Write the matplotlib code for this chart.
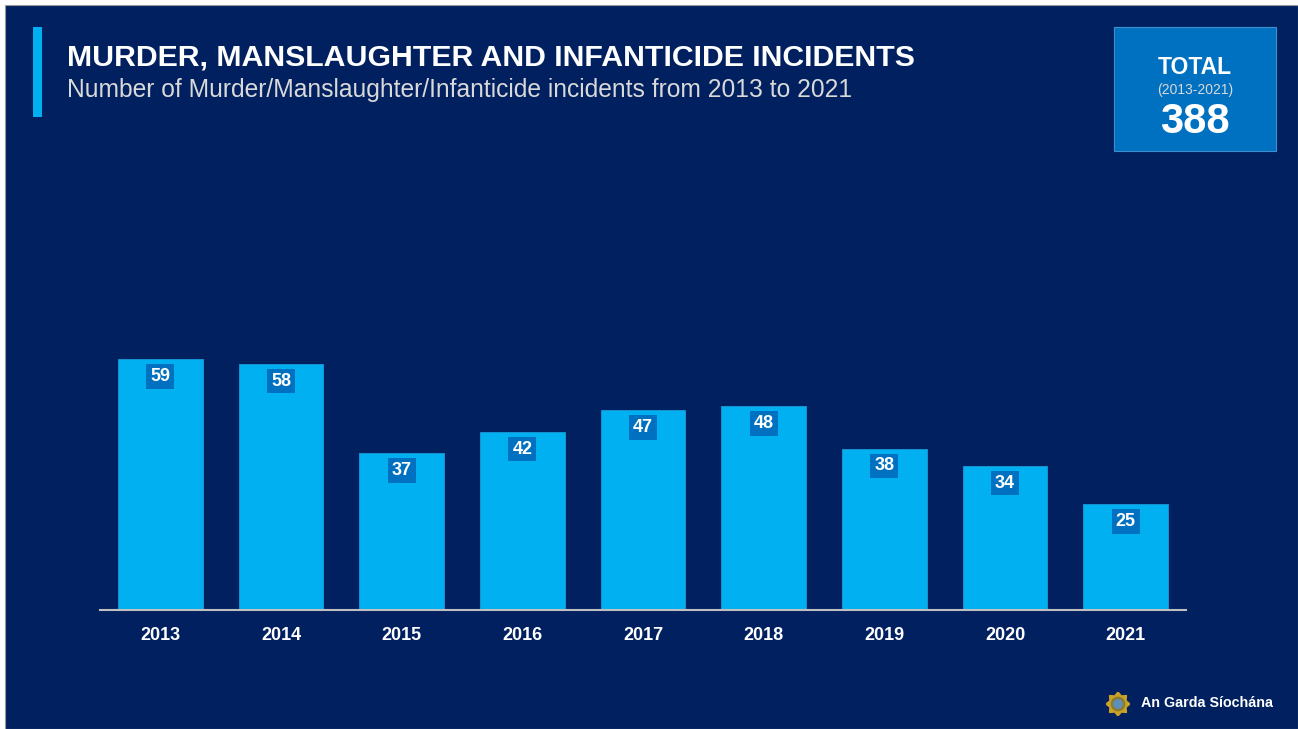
import matplotlib.pyplot as plt
from matplotlib.patches import Rectangle, Circle
import numpy as np

# Murder/Manslaughter/Infanticide incidents per year
years = ['2013', '2014', '2015', '2016', '2017', '2018', '2019', '2020', '2021']
incidents = [59, 58, 37, 42, 47, 48, 38, 34, 25]

NAVY = '#002060'
BAR = '#00B0F0'
BOX = '#0070C0'

W, H = 1298, 729
plt.rcParams['font.family'] = ['Liberation Sans', 'DejaVu Sans']

fig = plt.figure(figsize=(W / 100, H / 100), dpi=100, facecolor='white')


def fx(x):
    return x / W


def fy(y):
    return 1 - y / H


# Fondo azul oscuro de la diapositiva
fig.patches.append(Rectangle((fx(5), 0), fx(1293), 1 - 5 / H, transform=fig.transFigure,
                             facecolor=NAVY, edgecolor='#9a9a9a', linewidth=0.8, zorder=-10))

# Barra de acento y títulos
fig.patches.append(Rectangle((fx(33), fy(117)), fx(9), 90 / H, transform=fig.transFigure,
                             facecolor=BAR, edgecolor='none', zorder=-5))
fig.text(fx(67), fy(65.5), 'MURDER, MANSLAUGHTER AND INFANTICIDE INCIDENTS', color='white',
         fontsize=21.8, fontweight='bold', va='baseline', ha='left')
fig.text(fx(67), fy(97), 'Number of Murder/Manslaughter/Infanticide incidents from 2013 to 2021',
         color='#D9D9D9', fontsize=17.7, va='baseline', ha='left')

# Recuadro del total
fig.patches.append(Rectangle((fx(1114), fy(151)), fx(162), 124 / H, transform=fig.transFigure,
                             facecolor=BOX, edgecolor='#3d8fd0', linewidth=0.8, zorder=-5))
total = sum(incidents)
fig.text(fx(1195), fy(74.5), 'TOTAL', color='white', fontsize=16.5, fontweight='bold',
         ha='center', va='baseline')
fig.text(fx(1195), fy(94), '(2013-2021)', color='#D9D9D9', fontsize=10,
         ha='center', va='baseline')
fig.text(fx(1195), fy(133), str(total), color='white', fontsize=30, fontweight='bold',
         ha='center', va='baseline')

# Pie: escudo y nombre
ax_logo = fig.add_axes([fx(1106), fy(716), fx(24), 24 / H])
ax_logo.set_xlim(-1, 1)
ax_logo.set_ylim(-1, 1)
ax_logo.set_aspect('equal')
ax_logo.axis('off')
ang = np.linspace(0, 2 * np.pi, 17)
rad = np.where(np.arange(17) % 2 == 0, 1.0, 0.72)
ax_logo.fill(rad * np.sin(ang), rad * np.cos(ang), color='#C9A227')
ax_logo.add_patch(Circle((0, 0), 0.55, color='#8C7A2E'))
ax_logo.add_patch(Circle((0, 0), 0.35, color='#5E8FB8'))
fig.text(fx(1141), fy(703), 'An Garda Síochána', color='white', fontsize=10.3,
         fontweight='bold', ha='left', va='center')

# Gráfico de barras
ax = fig.add_axes([fx(100), fy(610), fx(1086), 460 / H])
ax.set_facecolor('none')
x = np.arange(len(years))
bars = ax.bar(x, incidents, width=0.70, color=BAR, edgecolor='#1a9ad8', linewidth=0.6)
ax.set_xlim(-0.5, len(years) - 0.5)
ax.set_ylim(0, 460 / 4.25)

for xi, v in zip(x, incidents):
    ax.annotate(str(v), (xi, v), xytext=(0, -22), textcoords='offset pixels',
                ha='center', va='baseline', color='white', fontsize=13, fontweight='bold',
                bbox=dict(boxstyle='square,pad=0.22', facecolor=BOX, edgecolor='none'))

ax.set_xticks(x)
ax.set_xticklabels(years, color='white', fontsize=13, fontweight='bold')
ax.tick_params(axis='x', length=0, pad=12.5)
ax.set_yticks([])
for side in ['top', 'left', 'right']:
    ax.spines[side].set_visible(False)
ax.spines['bottom'].set_color('#BFBFBF')
ax.spines['bottom'].set_linewidth(1.5)

fig.savefig('out.png', dpi=100, facecolor='white')
